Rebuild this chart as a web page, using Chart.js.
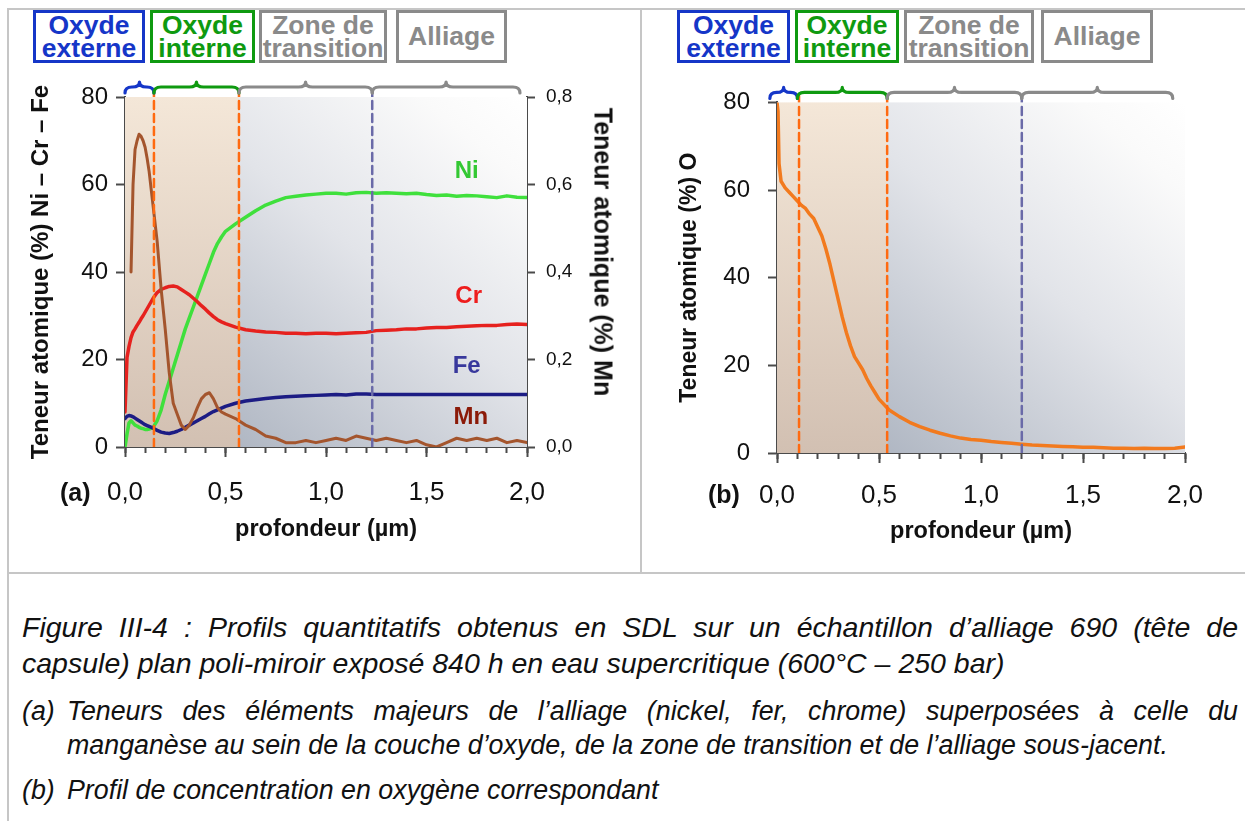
<!DOCTYPE html>
<html lang="fr">
<head>
<meta charset="utf-8">
<title>Profils SDL – alliage 690</title>
<script src="https://cdn.jsdelivr.net/npm/chart.js@4.4.1/dist/chart.umd.min.js"></script>
<style>
  html, body { margin: 0; padding: 0; background: #fff; }
  body { width: 1245px; height: 821px; position: relative; overflow: hidden;
         font-family: "Liberation Sans", Arial, Helvetica, sans-serif; color: #111; }
  .rule { position: absolute; background: #c6c6c6; }
  .zone { position: absolute; box-sizing: border-box; border: 3px solid; background: #fff;
          font-weight: bold; font-size: 26.5px; line-height: 23px; text-align: center;
          display: flex; align-items: center; justify-content: center; white-space: nowrap; }
  .blue  { color: #1536c8; border-color: #1536c8; }
  .green { color: #0f9a10; border-color: #0f9a10; }
  .grey  { color: #8a8a8a; border-color: #8a8a8a; }
  .panel { position: absolute; }
  .tag { position: absolute; font-weight: bold; font-size: 25px; line-height: 28px; }
  .vtitle { position: absolute; font-weight: bold; font-size: 25px; white-space: nowrap;
            transform: translate(-50%, -50%) rotate(90deg); }
  .cap { position: absolute; font-style: italic; white-space: nowrap; line-height: 34px; color: #111; }
  .just { text-align: justify; text-align-last: justify; }
</style>
</head>
<body>

<!-- frame of the figure -->
<div class="rule" style="left:7px;top:8px;width:1238px;height:2px"></div>
<div class="rule" style="left:7px;top:8px;width:2px;height:813px"></div>
<div class="rule" style="left:640px;top:8px;width:2px;height:565px"></div>
<div class="rule" style="left:7px;top:572px;width:1238px;height:2px"></div>

<!-- zone headers, panel (a) -->
<div class="zone blue"  style="left:33px;top:10px;width:112px;height:53px">Oxyde<br>externe</div>
<div class="zone green" style="left:150px;top:10px;width:105px;height:53px">Oxyde<br>interne</div>
<div class="zone grey"  style="left:259px;top:10px;width:128px;height:53px">Zone de<br>transition</div>
<div class="zone grey"  style="left:396px;top:10px;width:111px;height:53px">Alliage</div>

<!-- zone headers, panel (b) -->
<div class="zone blue"  style="left:677px;top:10px;width:113px;height:53px">Oxyde<br>externe</div>
<div class="zone green" style="left:795px;top:10px;width:104px;height:53px">Oxyde<br>interne</div>
<div class="zone grey"  style="left:904px;top:10px;width:130px;height:53px">Zone de<br>transition</div>
<div class="zone grey"  style="left:1041px;top:10px;width:112px;height:53px">Alliage</div>

<div class="panel" style="left:10px;top:70px;width:628px;height:500px">
  <canvas id="chartA" width="628" height="500"></canvas>
</div>
<div class="panel" style="left:644px;top:70px;width:600px;height:500px">
  <canvas id="chartB" width="600" height="500"></canvas>
</div>

<div class="vtitle" style="left:603px;top:252px">Teneur atomique (%) Mn</div>
<div class="tag" style="left:60px;top:478px">(a)</div>
<div class="tag" style="left:708px;top:480px">(b)</div>

<!-- caption -->
<div class="cap just" style="left:22px;top:610px;width:1216px;font-size:28.5px">Figure III-4&nbsp;: Profils quantitatifs obtenus en SDL sur un échantillon d’alliage 690 (tête de</div>
<div class="cap" style="left:22px;top:646px;font-size:28.5px">capsule) plan poli-miroir exposé 840 h en eau supercritique (600°C – 250 bar)</div>
<div class="cap" style="left:22px;top:694px;font-size:26.8px">(a)</div>
<div class="cap just" style="left:67px;top:694px;width:1171px;font-size:26.8px">Teneurs des éléments majeurs de l’alliage (nickel, fer, chrome) superposées à celle du</div>
<div class="cap" style="left:67px;top:728px;font-size:26.8px">manganèse au sein de la couche d’oxyde, de la zone de transition et de l’alliage sous-jacent.</div>
<div class="cap" style="left:22px;top:773px;font-size:26.8px">(b)</div>
<div class="cap" style="left:67px;top:773px;font-size:26.8px">Profil de concentration en oxygène correspondant</div>

<script>
// ---- panel (a): depth grid (µm) and atomic contents (%) ----
const depthA = [0, 0.01, 0.02, 0.03, 0.04, 0.05, 0.06, 0.07, 0.08, 0.09, 0.10, 0.11, 0.12,
  0.14, 0.16, 0.18, 0.20, 0.22, 0.24, 0.26, 0.28, 0.30, 0.32, 0.34, 0.36, 0.38, 0.40, 0.42, 0.44, 0.46, 0.48, 0.50,
  0.55, 0.60, 0.65, 0.70, 0.75, 0.80, 0.85, 0.90, 0.95, 1.00, 1.05, 1.10, 1.15, 1.20, 1.25, 1.30, 1.35, 1.40,
  1.45, 1.50, 1.55, 1.60, 1.65, 1.70, 1.75, 1.80, 1.85, 1.90, 1.95, 2.00];

const nickel = [0, 3, 5.5, 6, 5.5, 5, 4.8, 4.5, 4.3, 4.2, 4.0, 4.0, 4.1,
  4.5, 6, 8.5, 12, 15, 18, 21, 24, 27, 29.5, 32, 34.5, 37, 39.5, 42, 44.5, 46.5, 48, 49.3,
  51, 52.5, 54, 55.3, 56.2, 57, 57.3, 57.6, 57.8, 58, 58, 57.8, 58.1, 58.2, 58, 58.1, 58, 57.9,
  58, 57.7, 57.5, 57.6, 57.3, 57.5, 57.4, 57.2, 57, 57.4, 57.1, 57];

const chrome = [8, 20.5, 23, 25, 26.3, 27, 27.8, 28.5, 29.3, 30, 30.8, 31.6, 32.4,
  34, 35.3, 36, 36.4, 36.7, 36.8, 36.6, 36, 35.4, 34.8, 34, 33.2, 32.3, 31.5, 30.6, 29.8, 29.1, 28.6, 28.2,
  27.4, 26.8, 26.5, 26.3, 26.2, 26, 26, 25.9, 26, 26, 25.9, 26, 26.1, 26.2, 26.6, 26.7, 26.8, 27,
  27, 27.2, 27.3, 27.3, 27.5, 27.6, 27.7, 27.8, 27.8, 28, 28.1, 28];

const fer = [6.5, 7, 7.2, 7.1, 6.9, 6.6, 6.3, 6, 5.7, 5.4, 5.1, 4.9, 4.7,
  4.3, 3.8, 3.4, 3.2, 3.1, 3.3, 3.6, 4, 4.5, 5, 5.5, 6, 6.5, 7, 7.6, 8.1, 8.5, 8.9, 9.3,
  10, 10.5, 10.8, 11.1, 11.3, 11.5, 11.6, 11.7, 11.8, 11.9, 12, 11.9, 12.1, 12.1, 12, 12, 12, 12,
  12, 12, 12, 12, 12, 12, 12, 12, 12, 12, 12, 12];

// manganese is read on the right-hand axis (0 – 0,8 %)
const manganese = [null, null, null, 0.40, 0.60, 0.68, 0.70, 0.715, 0.71, 0.70, 0.685, 0.66, 0.63,
  0.55, 0.47, 0.36, 0.27, 0.17, 0.10, 0.075, 0.05, 0.04, 0.05, 0.067, 0.09, 0.11, 0.12, 0.124, 0.11, 0.09, 0.08, 0.075,
  0.065, 0.05, 0.04, 0.025, 0.02, 0.01, 0.01, 0.015, 0.01, 0.015, 0.02, 0.015, 0.025, 0.02, 0.015, 0.02, 0.015, 0.01,
  0.015, 0.005, 0.0, 0.01, 0.02, 0.015, 0.02, 0.015, 0.02, 0.01, 0.015, 0.01];

// ---- panel (b): oxygen profile ----
const depthB = [0, 0.005, 0.01, 0.02,
  0.04, 0.06, 0.08, 0.10, 0.12, 0.14, 0.16, 0.18, 0.20, 0.22, 0.24, 0.26, 0.28, 0.30, 0.32, 0.34, 0.36, 0.38,
  0.40, 0.42, 0.44, 0.46, 0.48, 0.50,
  0.55, 0.60, 0.65, 0.70, 0.75, 0.80, 0.85, 0.90, 0.95, 1.00, 1.05, 1.10, 1.15, 1.20, 1.25, 1.30, 1.35, 1.40,
  1.45, 1.50, 1.55, 1.60, 1.65, 1.70, 1.75, 1.80, 1.85, 1.90, 1.95, 2.00];

const oxygene = [80, 78, 66, 62,
  60.5, 59.5, 58.5, 57.5, 56.5, 55.8, 54.5, 53.5, 51.5, 49.5, 46.5, 43, 39, 35, 31, 27.5, 24.5, 22,
  20.5, 19, 17, 15.3, 13.8, 12.3,
  9.8, 8.3, 7, 6, 5.2, 4.5, 3.9, 3.4, 3.1, 2.9, 2.6, 2.4, 2.2, 2.0, 1.8, 1.7, 1.6, 1.5,
  1.4, 1.3, 1.3, 1.2, 1.1, 1.1, 1.0, 1.1, 1.0, 1.0, 1.1, 1.4];

// layer limits (µm): external oxide | internal oxide | transition zone | alloy
const limitsA = [0.144, 0.567, 1.23, 1.965];
const limitsB = [0.10, 0.54, 1.20, 1.94];
const dashA = [0.144, 0.567, 1.23];
const dashB = [0.108, 0.54, 1.20];

// element names written next to the curves (depth, content)
const curveNames = ['Ni', 'Cr', 'Fe', 'Mn'];
const curveNameAt = [[1.70, 63], [1.71, 34.5], [1.70, 18.4], [1.72, 6.8]];

// ---- drawing helpers ----
const INK = '#111';
const AXIS = '#4a4a4a';
const ORANGE = '#ff6a10';
const SLATE = '#6a6aa8';
const BRACE_COLORS = ['#1536c8', '#0f9a10', '#8a8a8a', '#8a8a8a'];
const NAME_COLORS = ['#33c833', '#ee1d1d', '#38389c', '#8b1a08'];

Chart.defaults.font.family = "'Liberation Sans', Arial, Helvetica, sans-serif";
Chart.defaults.color = INK;

const fmt = v => (Math.round(v * 10) / 10).toFixed(1).replace('.', ',');
const pts = (xs, ys) => xs.map((x, i) => ({ x, y: ys[i] }));
const vline = (x, color) => ({
  data: [{ x, y: 0 }, { x, y: 80 }], borderColor: color, borderWidth: 2.5,
  borderDash: [8, 5], pointRadius: 0, order: 0, yAxisID: 'y'
});

function drawBrace(ctx, x0, x1, top, color) {
  const r = Math.min(7, (x1 - x0) / 4);
  const xm = (x0 + x1) / 2;
  const yl = top + 5;
  ctx.beginPath();
  ctx.moveTo(x0, top + 11);
  ctx.quadraticCurveTo(x0, yl, x0 + r, yl);
  ctx.lineTo(xm - r, yl);
  ctx.quadraticCurveTo(xm, yl, xm, top);
  ctx.quadraticCurveTo(xm, yl, xm + r, yl);
  ctx.lineTo(x1 - r, yl);
  ctx.quadraticCurveTo(x1, yl, x1, top + 11);
  ctx.strokeStyle = color;
  ctx.lineWidth = 3.2;
  ctx.lineCap = 'round';
  ctx.lineJoin = 'round';
  ctx.stroke();
}

// shaded layers behind the curves, braces above the plot and the element names
const layersPlugin = {
  id: 'layers',
  beforeDatasetsDraw(chart, args, o) {
    const { ctx, chartArea: a, scales: { x } } = chart;
    const xb = x.getPixelForValue(o.oxideEnd);
    ctx.save();
    let g = ctx.createLinearGradient(0, a.top, 0, a.bottom);
    g.addColorStop(0, '#f4e7d8');
    g.addColorStop(1, '#d2c0b2');
    ctx.fillStyle = g;
    ctx.fillRect(a.left, a.top, xb - a.left, a.bottom - a.top);
    g = ctx.createLinearGradient(xb, a.bottom, a.right, a.top);
    g.addColorStop(0, '#b0b7c3');
    g.addColorStop(0.5, '#e2e4e9');
    g.addColorStop(0.85, '#fafafa');
    g.addColorStop(1, '#ffffff');
    ctx.fillStyle = g;
    ctx.fillRect(xb, a.top, a.right - xb, a.bottom - a.top);
    ctx.restore();
  },
  afterDraw(chart, args, o) {
    const { ctx, chartArea: a, scales } = chart;
    const x = scales.x;
    ctx.save();
    // stubs of the layer limits between the braces and the plot
    o.dashes.forEach((d, i) => {
      const px = x.getPixelForValue(d);
      ctx.strokeStyle = i < 2 ? ORANGE : SLATE;
      ctx.lineWidth = 2.5;
      ctx.beginPath();
      ctx.moveTo(px, a.top - 7);
      ctx.lineTo(px, a.top);
      ctx.stroke();
    });
    let start = o.braceStart;
    o.limits.forEach((lim, i) => {
      drawBrace(ctx, x.getPixelForValue(start), x.getPixelForValue(lim), a.top - 15, BRACE_COLORS[i]);
      start = lim;
    });
    if (o.names) {
      const y = scales.y;
      ctx.font = "bold 24px 'Liberation Sans', Arial, sans-serif";
      ctx.textAlign = 'center';
      ctx.textBaseline = 'middle';
      curveNames.forEach((n, i) => {
        ctx.fillStyle = NAME_COLORS[i];
        ctx.fillText(n, x.getPixelForValue(curveNameAt[i][0]), y.getPixelForValue(curveNameAt[i][1]));
      });
    }
    ctx.restore();
  }
};

function xScales(height, labelPad, titlePad) {
  return {
    xm: {
      type: 'linear', position: 'bottom', min: 0, max: 2, weight: 0,
      afterFit: s => { s.height = 0; },
      ticks: { display: false, stepSize: 0.1 },
      grid: { drawOnChartArea: false, tickLength: 6, tickWidth: 2, tickColor: AXIS },
      border: { display: false }
    },
    x: {
      type: 'linear', position: 'bottom', min: 0, max: 2, weight: 1,
      afterFit: s => { s.height = height; },
      ticks: { stepSize: 0.5, padding: labelPad, font: { size: 26 }, color: INK,
               maxRotation: 0, autoSkip: false, callback: fmt },
      grid: { drawOnChartArea: false, tickLength: 10, tickWidth: 2, tickColor: AXIS },
      border: { color: AXIS, width: 2 },
      title: { display: true, text: 'profondeur (µm)', color: INK,
               font: { size: 23.5, weight: 'bold' }, padding: { top: 0, bottom: titlePad } }
    }
  };
}

function yScale(width, labelPad, title, titleSize, titlePad) {
  return {
    min: 0, max: 80,
    afterFit: s => { s.width = width; },
    ticks: { stepSize: 20, padding: labelPad, font: { size: 24 }, color: INK },
    grid: { drawOnChartArea: false, tickLength: 9, tickWidth: 2, tickColor: AXIS },
    border: { color: AXIS, width: 2 },
    title: { display: true, text: title, color: INK,
             font: { size: titleSize, weight: 'bold' }, padding: { top: titlePad, bottom: 0 } }
  };
}

const common = {
  responsive: false, animation: false, devicePixelRatio: 1, events: [],
  elements: { point: { radius: 0 }, line: { tension: 0, borderJoinStyle: 'round', borderCapStyle: 'round' } }
};

new Chart(document.getElementById('chartA'), {
  type: 'line',
  data: {
    datasets: [
      vline(dashA[0], ORANGE), vline(dashA[1], ORANGE), vline(dashA[2], SLATE),
      { label: 'Mn', data: pts(depthA, manganese), yAxisID: 'y2', borderColor: '#a4552d', borderWidth: 3, order: 1 },
      { label: 'Fe', data: pts(depthA, fer), borderColor: '#1c1c84', borderWidth: 3.5, order: 2 },
      { label: 'Cr', data: pts(depthA, chrome), borderColor: '#e6211e', borderWidth: 3.5, order: 3 },
      { label: 'Ni', data: pts(depthA, nickel), borderColor: '#3fe03c', borderWidth: 3.5, order: 4 }
    ]
  },
  options: {
    ...common,
    layout: { padding: { top: 27, left: 0, right: 0, bottom: 0 } },
    plugins: {
      legend: { display: false }, tooltip: { enabled: false },
      layers: { oxideEnd: dashA[1], braceStart: 0, limits: limitsA, dashes: dashA, names: true }
    },
    scales: {
      ...xScales(123, 20, 26),
      y: yScale(115, 8, 'Teneur atomique (%) Ni – Cr – Fe', 24, 17),
      y2: {
        position: 'right', min: 0, max: 0.8,
        afterFit: s => { s.width = 111; },
        ticks: { stepSize: 0.2, padding: 11, font: { size: 19 }, color: INK, callback: fmt },
        grid: { drawOnChartArea: false, tickLength: 8, tickWidth: 2, tickColor: AXIS },
        border: { color: AXIS, width: 2 }
      }
    }
  },
  plugins: [layersPlugin]
});

new Chart(document.getElementById('chartB'), {
  type: 'line',
  data: {
    datasets: [
      vline(dashB[0], ORANGE), vline(dashB[1], ORANGE), vline(dashB[2], SLATE),
      { label: 'O', data: pts(depthB, oxygene), borderColor: '#f27a1e', borderWidth: 3.5, order: 1 }
    ]
  },
  options: {
    ...common,
    layout: { padding: { top: 27, left: 0, right: 59, bottom: 0 } },
    plugins: {
      legend: { display: false }, tooltip: { enabled: false },
      layers: { oxideEnd: dashB[1], braceStart: -0.035, limits: limitsB, dashes: dashB, names: false }
    },
    scales: {
      ...xScales(117, 17, 24),
      y: yScale(133, 18, 'Teneur atomique (%) O', 23, 32)
    }
  },
  plugins: [layersPlugin]
});
</script>
</body>
</html>
